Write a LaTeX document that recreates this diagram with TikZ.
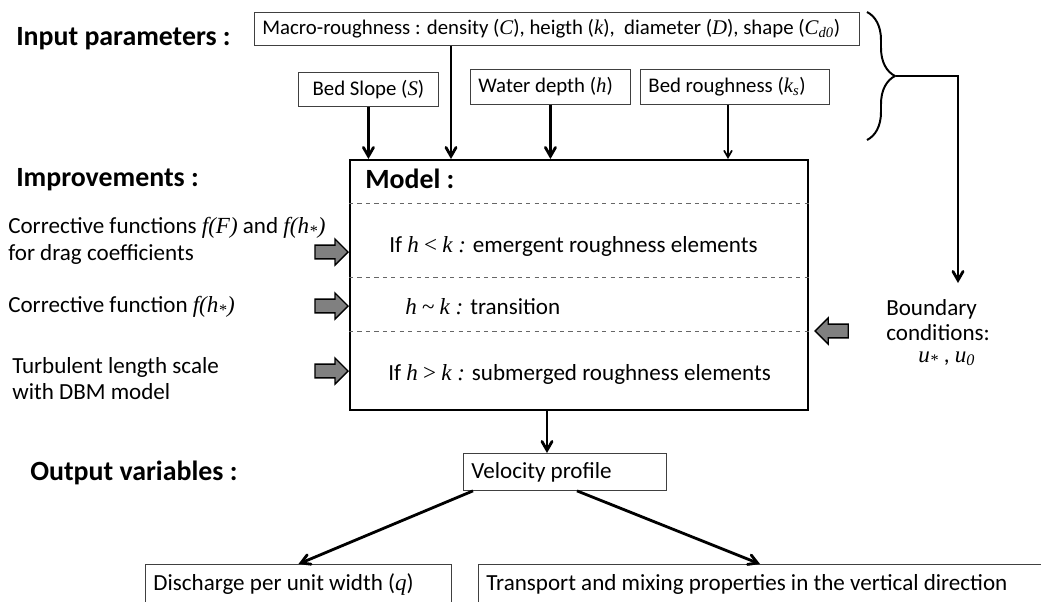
\documentclass[tikz,border=0pt]{standalone}
\usepackage{fontspec}
\setmainfont{Carlito}
\newfontfamily\tnr{Liberation Serif}
\usepackage{tikz}
\usetikzlibrary{arrows,shapes,decorations.pathreplacing}
\newcommand{\mvar}[1]{{\tnr\itshape #1}}

\begin{document}
\begin{tikzpicture}[x=0.025cm, y=-0.025cm, font=\fontsize{16.4}{19}\selectfont,
		title/.style={anchor=base west, inner sep=0, font=\fontsize{19.8}{23}\selectfont\bfseries},
		txt/.style={anchor=base west, inner sep=0},
		outbox/.style={draw=black!75, line width=0.6pt, anchor=north west, inner xsep=0.2cm, inner ysep=0, align=flush left},
		inbox/.style={outbox, font=\fontsize{14.8}{17}\selectfont},
		flow/.style={->, >=angle 60, line width=2pt},
		grayarr/.style={single arrow, draw=black, line width=1pt, fill=black!50, minimum height=0.825cm, minimum width=0.65cm, single arrow head extend=0.15cm, inner xsep=0, inner ysep=0.15cm},
		rowline/.style={dashed, draw=black!60, line width=0.5pt}]
		\useasboundingbox (0,0) rectangle (1041,601);
		% titles on the left
		\node[title] (inp) at (16,45) {Input parameters :};
		\node[title] (imp) at (16,186) {Improvements :};
		\node[title] (outv) at (30,480) {Output variables :};
		% input boxes
		\node[inbox, minimum width=15.125cm, minimum height=0.825cm, text width=14.725cm] (macro) at (254,12) {Macro-roughness : density (\mvar{C}), heigth (\mvar{k}),\ \ diameter (\mvar{D}), shape (\mvar{C\textsubscript{d0}})};
		\node[inbox, minimum width=3.5cm, minimum height=0.85cm, text width=3.1cm, align=flush center] (slope) at (298,72) {Bed Slope (\mvar{S})};
		\node[inbox, minimum width=4cm, minimum height=0.875cm, text width=3.6cm] (depth) at (470,69) {Water depth (\mvar{h})};
		\node[inbox, minimum width=4.725cm, minimum height=0.875cm, text width=4.325cm] (rough) at (640,69) {Bed roughness (\mvar{k\textsubscript{s}})};
		% model
		\node[draw, line width=1.5pt, anchor=north west, minimum width=11.45cm, minimum height=6.25cm, inner sep=0] (model) at (349,159) {};
		\node[title] (mtitle) at (365,188) {Model :};
		\foreach \yy in {203,277,331}
			\draw[rowline] (model.west |- 0,\yy) -- (model.east |- 0,\yy);
		\node[txt] (emerg) at (389,252) {If \mvar{h} {\tnr<} \mvar{k :} emergent roughness elements};
		\node[txt] (transi) at (405,314) {\mvar{h} {\tnr\textasciitilde} \mvar{k :} transition};
		\node[txt] (subm) at (388,380) {If \mvar{h} {\tnr>} \mvar{k :} submerged roughness elements};
		% improvements
		\node[txt] (c1a) at (8,233) {Corrective functions \mvar{f(F)} and \mvar{f(h\textsubscript{*})}};
		\node[txt] (c1b) at (8,260) {for drag coefficients};
		\node[txt] (c2) at (8,312) {Corrective function \mvar{f(h\textsubscript{*})}};
		\node[txt] (c3a) at (12,373) {Turbulent length scale};
		\node[txt] (c3b) at (12,399) {with DBM model};
		\foreach \yy/\nm in {252/ga,306/gb,371/gc}
			\node[grayarr, anchor=tip] (\nm) at (model.west |- 0,\yy) {};
		\node[grayarr, shape border rotate=180, anchor=tip] (gd) at ([xshift=0.125cm]model.east |- 0,331) {};
		% boundary conditions
		\node[txt] (bnd1) at (886,315) {Boundary};
		\node[txt] (bnd2) at (886,340) {conditions:};
		\node[txt] (bnd3) at (918,362) {\mvar{u\textsubscript{*}} , \mvar{u\textsubscript{0}}};
		\draw[decorate, decoration={brace, amplitude=0.7cm}, line width=1.4pt] (867,12) -- (867,140);
		\coordinate (brtip) at (896,76);
		\coordinate (bcend) at (958,283);
		\draw[flow] (brtip) -| (bcend);
		% inputs into the model
		\coordinate (mx) at (451,0);
		\coordinate (rx) at (728,0);
		\draw[flow] (slope.south) -- (slope.south |- model.north);
		\draw[flow] (macro.south -| mx) -- (mx |- model.north);
		\draw[flow] (depth.south) -- (depth.south |- model.north);
		\draw[flow, line width=1.2pt] (rough.south -| rx) -- (rx |- model.north);
		% outputs
		\node[outbox, minimum width=5.075cm, minimum height=0.925cm, text width=4.675cm] (velo) at (463,453) {Velocity profile};
		\coordinate (vx) at (547,0);
		\draw[flow] (model.south -| vx) -- (velo.north -| vx);
		\node[outbox, minimum width=7.65cm, minimum height=1cm, text width=7.25cm] (disch) at (145,564) {Discharge per unit width (\mvar{q})};
		\node[outbox, minimum width=14.8cm, minimum height=1cm, text width=14.4cm] (trnsp) at (478,564) {Transport and mixing properties in the vertical direction};
		\draw[flow] ([xshift=0.25cm]velo.south west) -- (disch.north);
		\draw[flow] ([xshift=0.3cm]velo.south) -- ([xshift=7.05cm]trnsp.north west);
\end{tikzpicture}
\end{document}
